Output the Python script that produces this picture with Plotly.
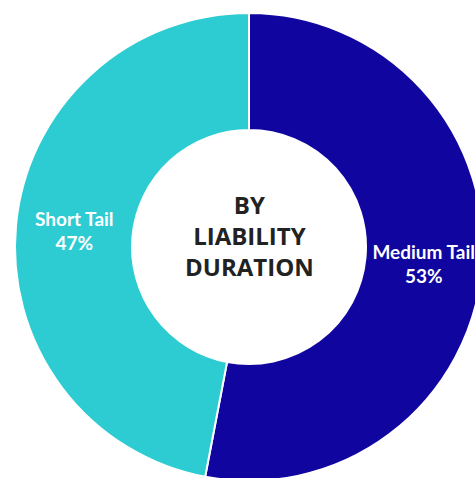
import plotly.graph_objects as go

labels = ["Medium Tail", "Short Tail"]
values = [53, 47]
colors = ["#10069F", "#2DCCD3"]
center_text = "BY<br>LIABILITY<br>DURATION"

W, H = 500, 500
cx, cy, r = 249, 247, 234

fig = go.Figure(go.Pie(
    labels=labels,
    values=values,
    hole=0.5,
    sort=False,
    direction="clockwise",
    rotation=0,
    marker=dict(colors=colors, line=dict(color="white", width=2)),
    textinfo="label+percent",
    texttemplate="%{label}<br>%{percent:.0%}",
    textposition="inside",
    insidetextorientation="horizontal",
    textfont=dict(family="Lato", size=19, color="white", weight="bold"),
    showlegend=False,
    hoverinfo="skip",
    domain=dict(x=[(cx - r) / W, (cx + r) / W],
                y=[(H - cy - r) / H, (H - cy + r) / H]),
))

fig.add_annotation(
    text=center_text, x=cx / W, y=(H - 235) / H, xref="paper", yref="paper",
    showarrow=False, align="center",
    font=dict(family="Open Sans", size=24, color="#222222", weight="bold"),
)

fig.update_layout(
    width=W, height=H,
    margin=dict(l=0, r=0, t=0, b=0),
    paper_bgcolor="white", plot_bgcolor="white",
)

fig.write_html("out.html", config={"displayModeBar": False},
               post_script="document.body.style.margin='0';document.body.style.overflow='hidden';document.documentElement.style.overflow='hidden';")
